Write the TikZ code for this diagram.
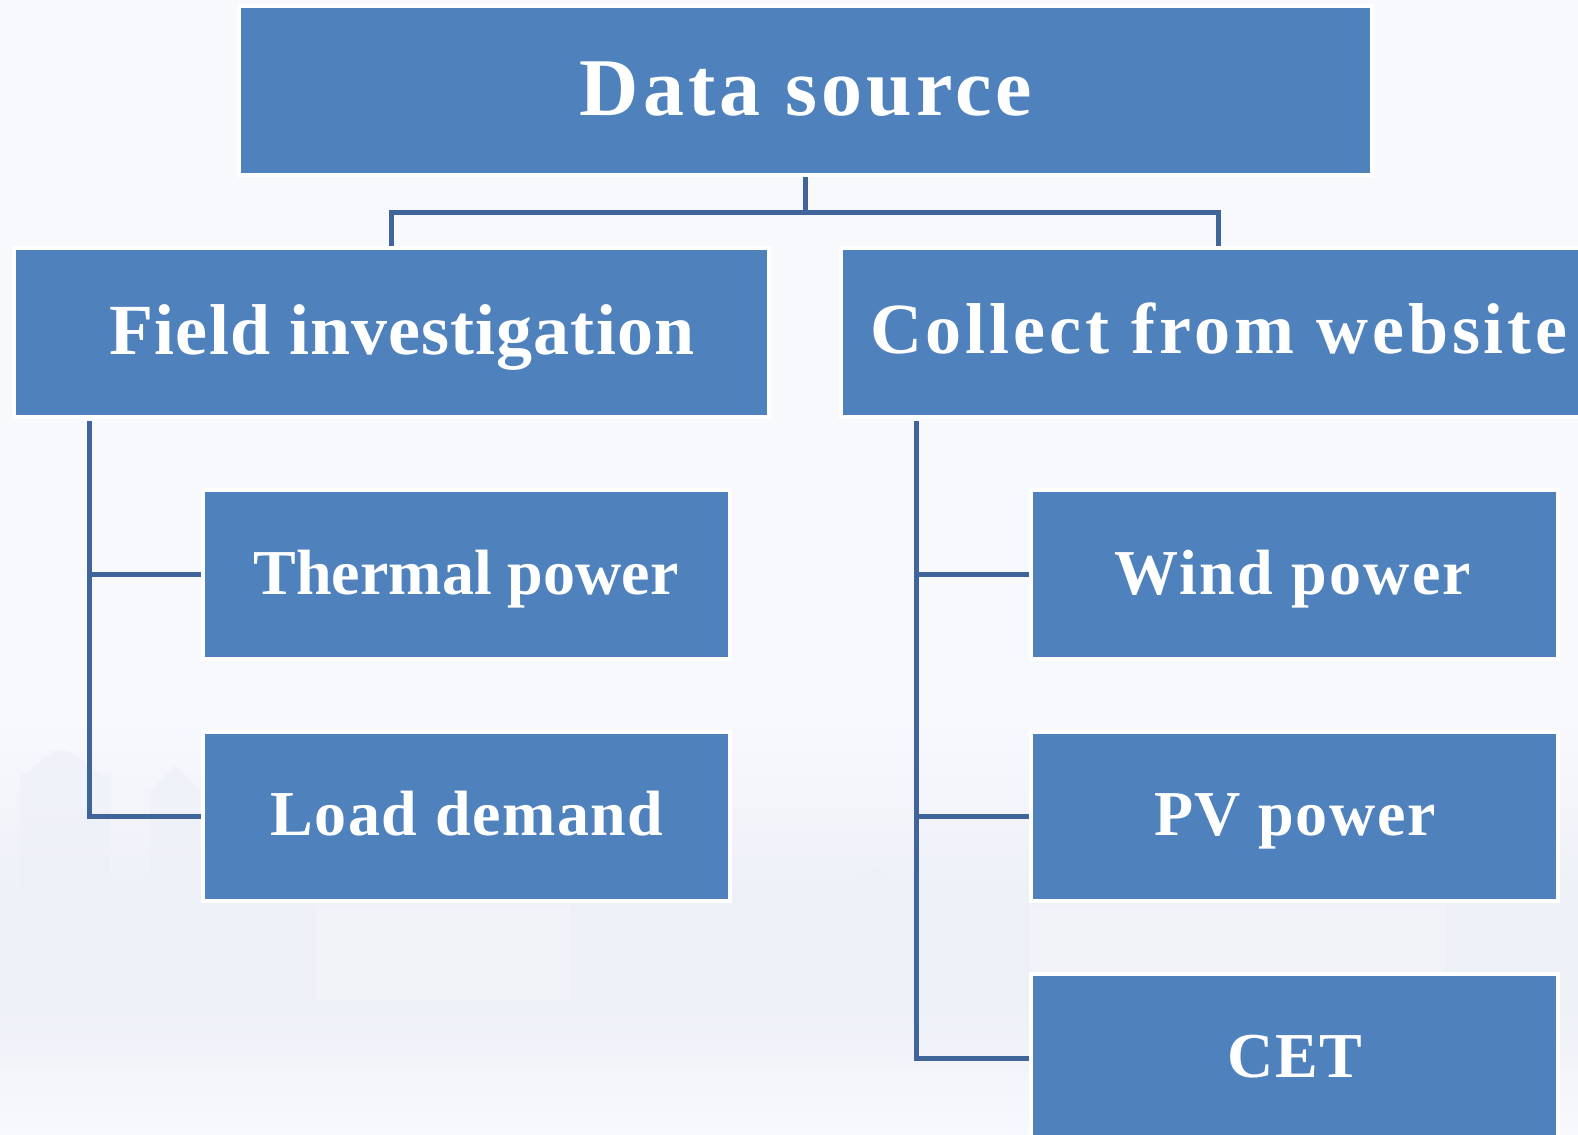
\documentclass[tikz,border=0pt]{standalone}
\usepackage{fontspec}
\setmainfont{Liberation Serif}
\usetikzlibrary{calc}

\definecolor{boxblue}{HTML}{4F81BD}
\definecolor{linkblue}{HTML}{40659A}
\definecolor{paper}{HTML}{F8F9FD}
\definecolor{skyline}{HTML}{EEF0F8}

\tikzset{
  box/.style={rectangle, fill=boxblue, draw=white, line width=4bp,
              inner sep=0pt, minimum height=169bp},
  wide/.style={box, minimum width=755bp},
  mid/.style={box, minimum width=527bp},
  top/.style={box, minimum width=1133bp},
  txt/.style={text=white, inner sep=0pt, anchor=base, font=\bfseries},
  titletxt/.style={txt, font=\fontsize{82bp}{90bp}\selectfont\bfseries\addfontfeatures{LetterSpace=5}},
  headtxt/.style={txt, font=\fontsize{72bp}{80bp}\selectfont\bfseries\addfontfeatures{LetterSpace=#1}},
  leaftxt/.style={txt, font=\fontsize{64bp}{70bp}\selectfont\bfseries\addfontfeatures{LetterSpace=#1}},
  link/.style={draw=linkblue, line width=5bp, line join=miter},
  tower/.style={fill=skyline, opacity=0.6}
}

\begin{document}
\begin{tikzpicture}[x=1bp, y=-1bp]
  \useasboundingbox (0,0) rectangle (1578,1134);
  \clip (0,0) rectangle (1578,1134);

  % pale background with a faint city skyline
  \fill[paper] (0,0) rectangle (1578,1134);
  \shade[top color=paper, bottom color=skyline] (0,720) rectangle (1578,900);
  \fill[skyline] (0,900) rectangle (1578,1000);
  \fill[skyline!70!paper] (316,905) rectangle (571,1000);
  \fill[skyline!70!paper] (1030,905) rectangle (1445,1000);
  \fill[tower] (20,1000) -- (20,770) to[out=-80,in=180] (60,750) to[out=0,in=-100] (110,770) -- (110,1000) -- cycle;
  \fill[tower] (150,1000) -- (150,790) -- (175,765) -- (200,790) -- (200,1000) -- cycle;
  \fill[tower] (720,1000) -- (720,910) to[out=-80,in=180] (740,885) to[out=0,in=-100] (760,910) -- (760,1000) -- cycle;
  \fill[tower] (840,1000) -- (840,900) -- (875,865) -- (900,900) -- (900,1000) -- cycle;
  \fill[tower] (1480,1000) -- (1480,830) -- (1520,810) -- (1560,830) -- (1560,1000) -- cycle;
  \shade[top color=skyline, bottom color=paper] (0,1000) rectangle (1578,1134);

  % boxes
  \node[top]  (ds)  at (805.5, 90.8) {};
  \node[wide] (fi)  at (391.5, 332.5) {};
  \node[wide] (cw)  at (1218.5, 332.5) {};
  \node[mid]  (tp)  at (466.5, 574.6) {};
  \node[mid]  (ld)  at (466.5, 816.8) {};
  \node[mid]  (wp)  at (1294.5, 574.6) {};
  \node[mid]  (pv)  at (1294.5, 816.8) {};
  \node[mid]  (cet) at (1294.5, 1058.5) {};

  % labels
  \node[titletxt]     (dst)  at (806, 115) {Data source};
  \node[headtxt=1.5]  (fit)  at (402, 354) {Field investigation};
  \node[headtxt=5.5]  (cwt)  at (1219, 353) {Collect from website};
  \node[leaftxt=0]    (tpt)  at (466, 594) {Thermal power};
  \node[leaftxt=2.5]  (ldt)  at (467, 835) {Load demand};
  \node[leaftxt=3.5]  (wpt)  at (1293, 594) {Wind power};
  \node[leaftxt=2.5]  (pvt)  at (1295, 835) {PV power};
  \node[leaftxt=2.5]  (cett) at (1295, 1077) {CET};

  % tree connectors
  \coordinate (bar) at (805.5, 212);
  \coordinate (lv) at (89.5, 421);
  \coordinate (rv) at (916.5, 421);

  \draw[link] (ds.south) -- (bar);
  \draw[link] (fi.north) |- (bar) -| (cw.north);
  \draw[link] (lv) |- (tp.west);
  \draw[link] (lv) |- (ld.west);
  \draw[link] (rv) |- (wp.west);
  \draw[link] (rv) |- (pv.west);
  \draw[link] (rv) |- (cet.west);
\end{tikzpicture}
\end{document}
